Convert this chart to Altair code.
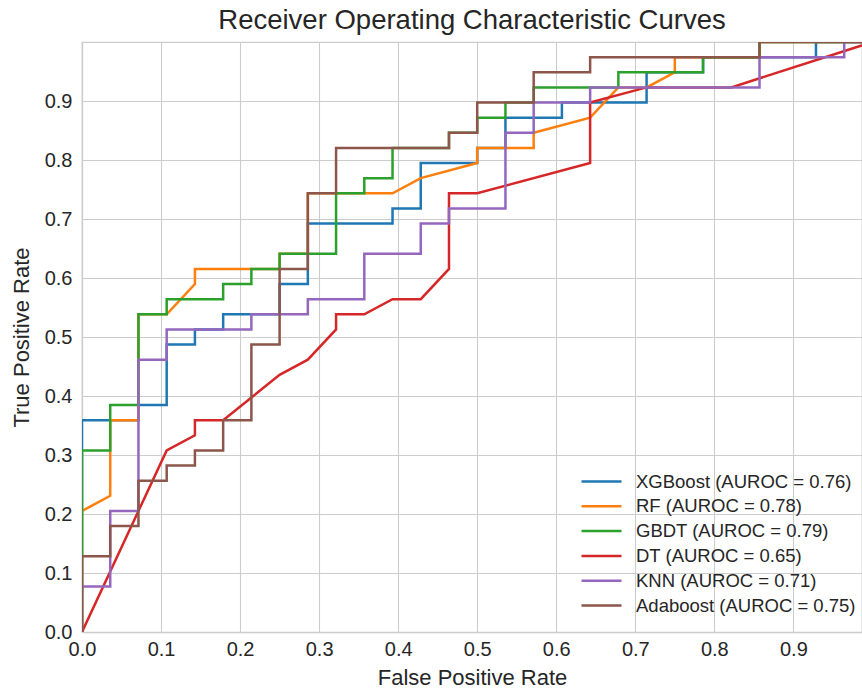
import altair as alt
import pandas as pd

# ROC operating points, in units of one negative (fp) and one positive (tp) case
N_NEG = 28
N_POS = 39

models = ["XGBoost", "RF", "GBDT", "DT", "KNN", "Adaboost"]
auroc = [0.76, 0.78, 0.79, 0.65, 0.71, 0.75]
colors = ["#1f77b4", "#ff7f0e", "#2ca02c", "#d62728", "#9467bd", "#8c564b"]

xgb_fp = [0, 0, 2, 2, 3, 3, 4, 4, 5, 5, 7, 7, 8, 8, 11, 11, 12, 12, 14, 14, 15, 15, 17, 17, 20, 20, 22, 22, 26, 26, 28]
xgb_tp = [0, 14, 14, 15, 15, 19, 19, 20, 20, 21, 21, 23, 23, 27, 27, 28, 28, 31, 31, 32, 32, 34, 34, 35, 35, 37, 37, 38, 38, 39, 39]

rf_fp = [0, 0, 1, 1, 2, 2, 3, 4, 4, 7, 7, 8, 8, 11, 12, 14, 14, 16, 16, 18, 19, 20, 21, 21, 24, 24, 28]
rf_tp = [0, 8, 9, 14, 14, 21, 21, 23, 24, 24, 25, 25, 29, 29, 30, 31, 32, 32, 33, 34, 36, 36, 37, 38, 38, 39, 39]

gbdt_fp = [0, 0, 1, 1, 2, 2, 3, 3, 5, 5, 6, 6, 7, 7, 9, 9, 10, 10, 11, 11, 13, 13, 14, 14, 15, 15, 16, 16, 19, 19, 22, 22, 24, 24, 28]
gbdt_tp = [0, 12, 12, 15, 15, 21, 21, 22, 22, 23, 23, 24, 24, 25, 25, 29, 29, 30, 30, 32, 32, 33, 33, 34, 34, 35, 35, 36, 36, 37, 37, 38, 38, 39, 39]

dt_fp = [0, 3, 4, 4, 5, 7, 8, 9, 9, 10, 11, 12, 13, 13, 14, 18, 18, 20, 23, 28]
dt_tp = [0, 12, 13, 14, 14, 17, 18, 20, 21, 21, 22, 22, 24, 29, 29, 31, 35, 36, 36, 39]

knn_fp = [0, 0, 1, 1, 2, 2, 3, 3, 6, 6, 8, 8, 10, 10, 12, 12, 13, 13, 15, 15, 16, 16, 18, 18, 24, 24, 27, 27, 28]
knn_tp = [0, 3, 3, 8, 8, 18, 18, 20, 20, 21, 21, 22, 22, 25, 25, 27, 27, 28, 28, 33, 33, 35, 35, 36, 36, 38, 38, 39, 39]

ada_fp = [0, 0, 1, 1, 2, 2, 3, 3, 4, 4, 5, 5, 6, 6, 7, 7, 8, 8, 9, 9, 13, 13, 14, 14, 16, 16, 18, 18, 24, 24, 28]
ada_tp = [0, 5, 5, 7, 7, 10, 10, 11, 11, 12, 12, 14, 14, 19, 19, 24, 24, 29, 29, 32, 32, 33, 33, 35, 35, 37, 37, 38, 38, 39, 39]

curves = [
    (xgb_fp, xgb_tp),
    (rf_fp, rf_tp),
    (gbdt_fp, gbdt_tp),
    (dt_fp, dt_tp),
    (knn_fp, knn_tp),
    (ada_fp, ada_tp),
]

labels = [f"{m} (AUROC = {a:.2f})" for m, a in zip(models, auroc)]

rows = []
for label, (fp, tp) in zip(labels, curves):
    for i, (f, t) in enumerate(zip(fp, tp)):
        rows.append({"model": label, "idx": i, "fpr": f / N_NEG, "tpr": t / N_POS})
df = pd.DataFrame(rows)

ticks = [0.0, 0.1, 0.2, 0.3, 0.4, 0.5, 0.6, 0.7, 0.8, 0.9]
FONT = "Liberation Sans"
INK = "#262626"
GRID = "#cccccc"

# legend key: a horizontal dash twice as wide as the nominal symbol size
DASH = "M-2,0H2"

chart = (
    alt.Chart(df)
    .mark_line(strokeWidth=2.5, clip=True)
    .encode(
        x=alt.X(
            "fpr:Q",
            scale=alt.Scale(domain=[0, 0.9868], nice=False, zero=False),
            axis=alt.Axis(values=ticks, format=".1f", title="False Positive Rate",
                          labelPadding=7, titlePadding=8, labelFlush=False),
        ),
        y=alt.Y(
            "tpr:Q",
            scale=alt.Scale(domain=[0, 1], nice=False, zero=False),
            axis=alt.Axis(values=ticks, format=".1f", title="True Positive Rate",
                          labelPadding=10, titlePadding=11, labelFlush=False),
        ),
        color=alt.Color(
            "model:N",
            scale=alt.Scale(domain=labels, range=colors),
            legend=alt.Legend(
                title=None,
                orient="none",
                legendX=508,
                legendY=428,
                symbolType=DASH,
                symbolSize=400,
                symbolStrokeWidth=2.5,
                labelFontSize=18.5,
                labelFont=FONT,
                labelColor=INK,
                labelOffset=23,
                labelLimit=0,
                rowPadding=3.8,
                padding=0,
            ),
        ),
        order=alt.Order("idx:Q"),
    )
    .properties(
        width=780,
        height=590,
        title="Receiver Operating Characteristic Curves",
        autosize=alt.AutoSizeParams(type="none"),
        padding={"left": 82, "top": 42, "right": 0, "bottom": 61},
    )
    .configure_axis(
        domainColor=GRID,
        domainWidth=1.25,
        ticks=False,
        gridColor=GRID,
        gridWidth=1.1,
        labelFont=FONT,
        labelFontSize=20,
        labelColor=INK,
        titleFont=FONT,
        titleFontSize=22,
        titleFontWeight="normal",
        titleColor=INK,
    )
    .configure_view(stroke=GRID, strokeWidth=1.25)
    .configure_title(font=FONT, fontSize=27.5, fontWeight="normal", color=INK,
                     anchor="middle", offset=8)
)

chart.save("out.html", embed_options={"renderer": "svg", "actions": False})
